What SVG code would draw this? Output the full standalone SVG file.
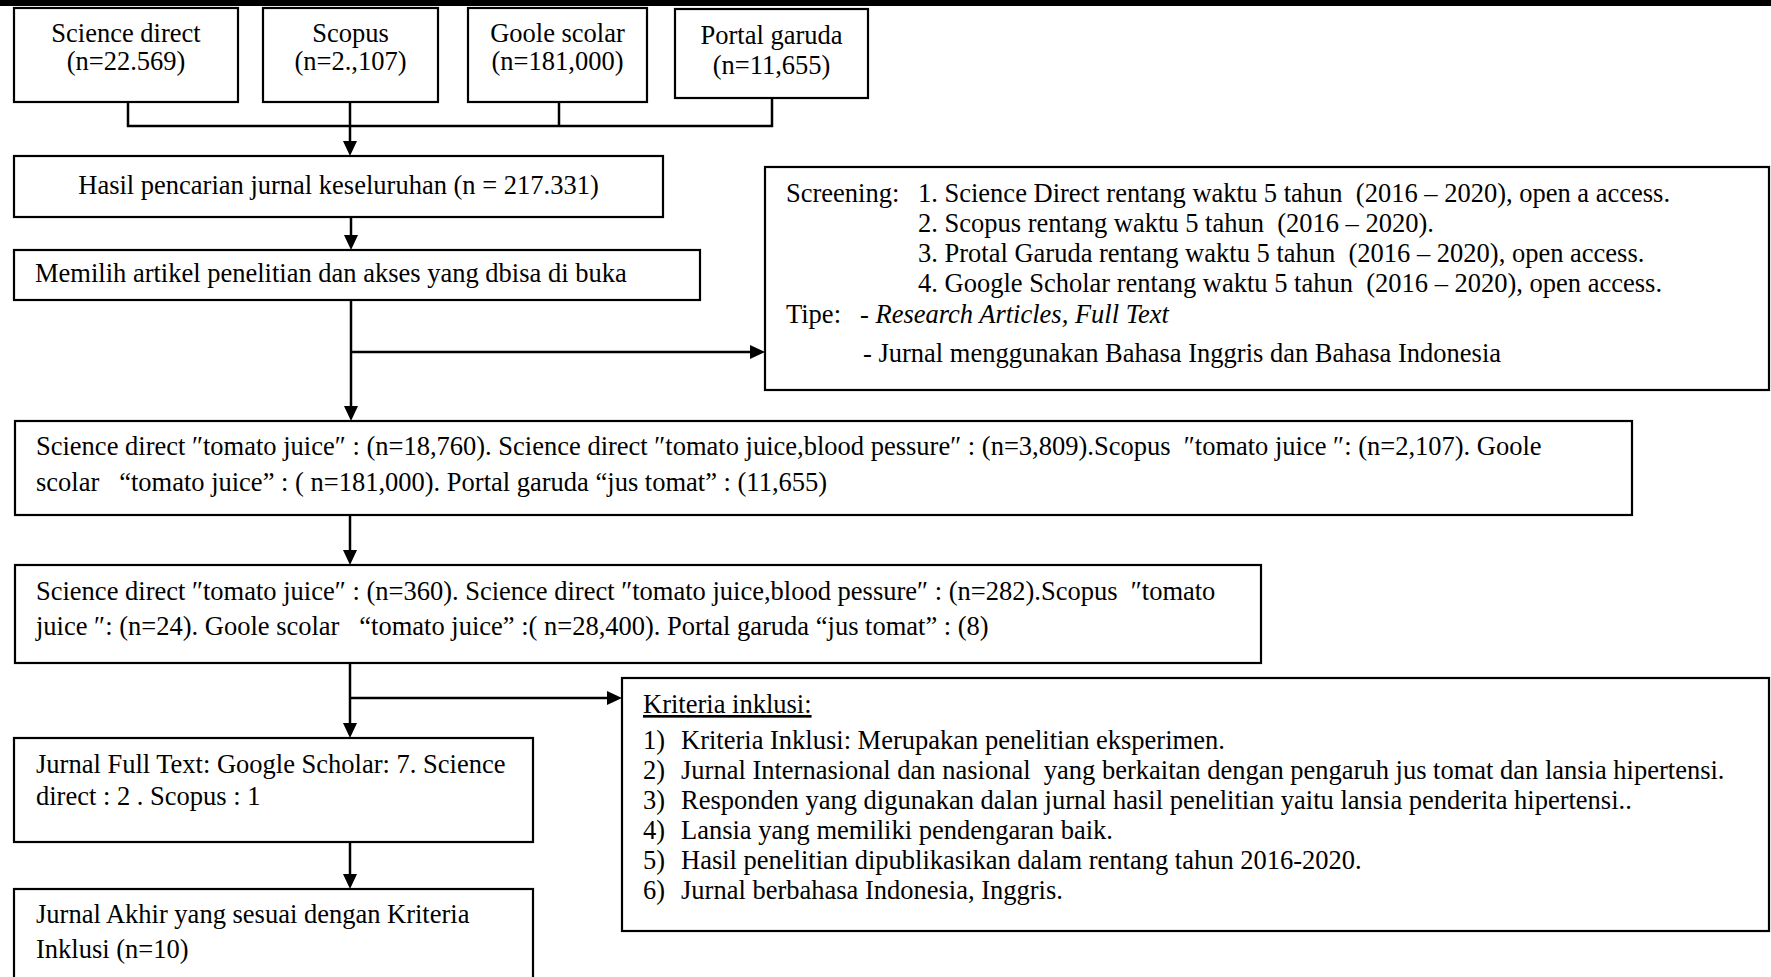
<svg xmlns="http://www.w3.org/2000/svg" width="1771" height="977" viewBox="0 0 1771 977">
<style>
.box{fill:#fff;stroke:#000;stroke-width:2.2}
.t{font-family:"Liberation Serif","Times New Roman",serif;font-size:26.5px;fill:#000}
.c{text-anchor:middle}
.ln{stroke:#000;stroke-width:2.5;fill:none}
.it{font-style:italic}
</style>
<defs>
<marker id="ah" markerUnits="userSpaceOnUse" markerWidth="16" markerHeight="14" refX="0" refY="7" orient="auto" overflow="visible">
<path d="M0,0 L15,7 L0,14 Z" fill="#000"/>
</marker>
</defs>
<rect width="1771" height="977" fill="#fff"/>
<rect x="0" y="0" width="1771" height="6" fill="#000"/>

<g id="connectors">
<polyline class="ln" points="128,102 128,126 772,126 772,98"/>
<line class="ln" x1="559" y1="102" x2="559" y2="126"/>
<line class="ln" x1="350" y1="102" x2="350" y2="141" marker-end="url(#ah)"/>
<line class="ln" x1="351" y1="217" x2="351" y2="235" marker-end="url(#ah)"/>
<line class="ln" x1="351" y1="300" x2="351" y2="406" marker-end="url(#ah)"/>
<line class="ln" x1="351" y1="352" x2="750" y2="352" marker-end="url(#ah)"/>
<line class="ln" x1="350" y1="515" x2="350" y2="550" marker-end="url(#ah)"/>
<line class="ln" x1="350" y1="663" x2="350" y2="723" marker-end="url(#ah)"/>
<line class="ln" x1="350" y1="698" x2="607" y2="698" marker-end="url(#ah)"/>
<line class="ln" x1="350" y1="842" x2="350" y2="874" marker-end="url(#ah)"/>
</g>

<g id="n-sciencedirect">
<rect class="box" x="14" y="8" width="224" height="94"/>
<text class="t c" x="126" y="42">Science direct</text>
<text class="t c" x="126" y="70">(n=22.569)</text>
</g>
<g id="n-scopus">
<rect class="box" x="263" y="8" width="175" height="94"/>
<text class="t c" x="350.5" y="42">Scopus</text>
<text class="t c" x="350.5" y="70">(n=2.,107)</text>
</g>
<g id="n-goole">
<rect class="box" x="468" y="8" width="179" height="94"/>
<text class="t c" x="557.5" y="42">Goole scolar</text>
<text class="t c" x="557.5" y="70">(n=181,000)</text>
</g>
<g id="n-garuda">
<rect class="box" x="675" y="9" width="193" height="89"/>
<text class="t c" x="771.5" y="44">Portal garuda</text>
<text class="t c" x="771.5" y="74">(n=11,655)</text>
</g>

<g id="n-hasil">
<rect class="box" x="14" y="156" width="649" height="61"/>
<text class="t c" x="338.5" y="194">Hasil pencarian jurnal keseluruhan (n = 217.331)</text>
</g>

<g id="n-memilih">
<rect class="box" x="14" y="250" width="686" height="50"/>
<text class="t" x="35" y="282">Memilih artikel penelitian dan akses yang dbisa di buka</text>
</g>

<g id="n-screening">
<rect class="box" x="765" y="167" width="1004" height="223"/>
<text class="t" x="786" y="202">Screening:</text>
<text class="t" x="918" y="202" xml:space="preserve">1. Science Direct rentang waktu 5 tahun  (2016 – 2020), open a access.</text>
<text class="t" x="918" y="232" xml:space="preserve">2. Scopus rentang waktu 5 tahun  (2016 – 2020).</text>
<text class="t" x="918" y="262" xml:space="preserve">3. Protal Garuda rentang waktu 5 tahun  (2016 – 2020), open access.</text>
<text class="t" x="918" y="292" xml:space="preserve">4. Google Scholar rentang waktu 5 tahun  (2016 – 2020), open access.</text>
<text class="t" x="786" y="323">Tipe:</text>
<text class="t" x="860" y="323">- <tspan class="it">Research Articles, Full Text</tspan></text>
<text class="t" x="863" y="362">- Jurnal menggunakan Bahasa Inggris dan Bahasa Indonesia</text>
</g>

<g id="n-search1">
<rect class="box" x="15" y="421" width="1617" height="94"/>
<text class="t" x="36" y="455" xml:space="preserve">Science direct ″tomato juice″ : (n=18,760). Science direct ″tomato juice,blood pessure″ : (n=3,809).Scopus  ″tomato juice ″: (n=2,107). Goole</text>
<text class="t" x="36" y="491" xml:space="preserve">scolar   “tomato juice” : ( n=181,000). Portal garuda “jus tomat” : (11,655)</text>
</g>

<g id="n-search2">
<rect class="box" x="15" y="565" width="1246" height="98"/>
<text class="t" x="36" y="600" xml:space="preserve">Science direct ″tomato juice″ : (n=360). Science direct ″tomato juice,blood pessure″ : (n=282).Scopus  ″tomato</text>
<text class="t" x="36" y="635" xml:space="preserve">juice ″: (n=24). Goole scolar   “tomato juice” :( n=28,400). Portal garuda “jus tomat” : (8)</text>
</g>

<g id="n-fulltext">
<rect class="box" x="14" y="738" width="519" height="104"/>
<text class="t" x="36" y="773">Jurnal Full Text: Google Scholar: 7. Science</text>
<text class="t" x="36" y="805">direct : 2 . Scopus : 1</text>
</g>

<g id="n-akhir">
<rect class="box" x="14" y="889" width="519" height="100"/>
<text class="t" x="36" y="923">Jurnal Akhir yang sesuai dengan Kriteria</text>
<text class="t" x="36" y="958">Inklusi (n=10)</text>
</g>

<g id="n-kriteria">
<rect class="box" x="622" y="678" width="1147" height="253"/>
<text class="t" x="643" y="713" text-decoration="underline">Kriteria inklusi:</text>
<text class="t" x="643" y="749">1)</text>
<text class="t" x="681" y="749">Kriteria Inklusi: Merupakan penelitian eksperimen.</text>
<text class="t" x="643" y="779">2)</text>
<text class="t" x="681" y="779" xml:space="preserve">Jurnal Internasional dan nasional  yang berkaitan dengan pengaruh jus tomat dan lansia hipertensi.</text>
<text class="t" x="643" y="809">3)</text>
<text class="t" x="681" y="809">Responden yang digunakan dalan jurnal hasil penelitian yaitu lansia penderita hipertensi..</text>
<text class="t" x="643" y="839">4)</text>
<text class="t" x="681" y="839">Lansia yang memiliki pendengaran baik.</text>
<text class="t" x="643" y="869">5)</text>
<text class="t" x="681" y="869">Hasil penelitian dipublikasikan dalam rentang tahun 2016-2020.</text>
<text class="t" x="643" y="899">6)</text>
<text class="t" x="681" y="899">Jurnal berbahasa Indonesia, Inggris.</text>
</g>
</svg>
